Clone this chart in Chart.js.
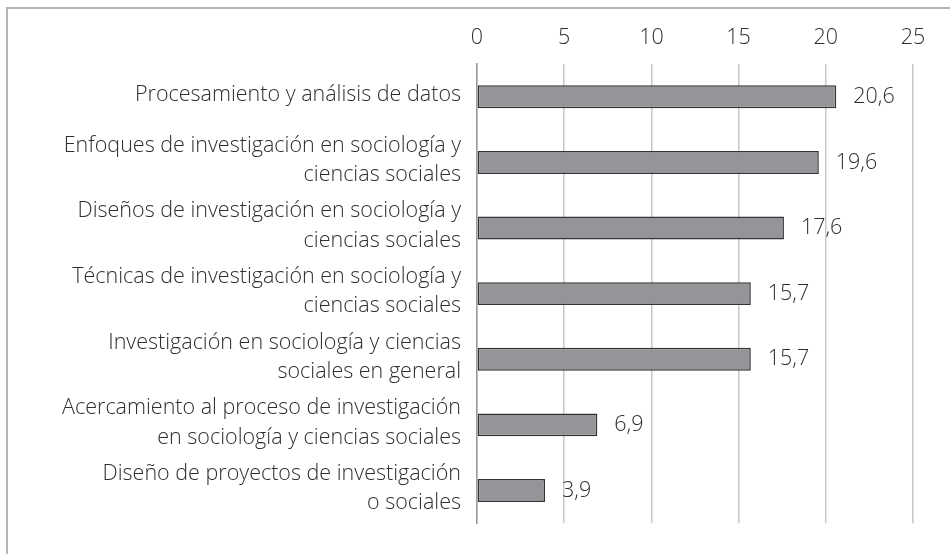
<!DOCTYPE html>
<html>
<head>
<meta charset="utf-8">
<script src="https://cdn.jsdelivr.net/npm/chart.js@4/dist/chart.umd.min.js"></script>
<style>
    html, body { margin: 0; padding: 0; background: #fff; }
    #wrap { position: relative; width: 950px; height: 554px; }
    #frame {
        position: absolute; left: 6px; top: 7px; right: -10px; bottom: -10px;
        border-left: 2px solid #b4b4b4; border-top: 2px solid #b4b4b4;
        pointer-events: none;
    }
</style>
</head>
<body>
<div id="wrap">
    <canvas id="chart" width="950" height="554"></canvas>
    <div id="frame"></div>
</div>
<script>
    // values
    var categories = [
        'Procesamiento y análisis de datos',
        ['Enfoques de investigación en sociología y', 'ciencias sociales'],
        ['Diseños de investigación en sociología y', 'ciencias sociales'],
        ['Técnicas de investigación en sociología y', 'ciencias sociales'],
        ['Investigación en sociología y ciencias', 'sociales en general'],
        ['Acercamiento al proceso de investigación', 'en sociología y ciencias sociales'],
        ['Diseño de proyectos de investigación', 'o sociales']
    ];
    var values = [20.6, 19.6, 17.6, 15.7, 15.7, 6.9, 3.9];
    var xTicks = [0, 5, 10, 15, 20, 25];

    var fontFamily = "'Open Sans', Lato, sans-serif";
    var textColor = '#2e2e2e';

    var valueLabels = {
        id: 'valueLabels',
        afterDatasetsDraw: function (chart) {
            var ctx = chart.ctx;
            var meta = chart.getDatasetMeta(0);
            ctx.save();
            ctx.font = '300 21.5px ' + fontFamily;
            ctx.fillStyle = textColor;
            ctx.textAlign = 'left';
            ctx.textBaseline = 'middle';
            meta.data.forEach(function (bar, i) {
                ctx.fillText(values[i].toFixed(1).replace('.', ','), bar.x + 17, bar.y);
            });
            ctx.restore();
        }
    };

    new Chart(document.getElementById('chart'), {
        type: 'bar',
        data: {
            labels: categories,
            datasets: [{
                data: values,
                backgroundColor: '#939598',
                borderColor: '#333333',
                borderWidth: 1.5,
                borderSkipped: false,
                barPercentage: 0.35,
                categoryPercentage: 1
            }]
        },
        options: {
            indexAxis: 'y',
            responsive: false,
            animation: false,
            layout: {
                padding: { top: 0, right: 37, bottom: 27, left: 0 }
            },
            plugins: {
                legend: { display: false },
                tooltip: { enabled: false }
            },
            scales: {
                x: {
                    position: 'top',
                    min: 0,
                    max: 25,
                    afterBuildTicks: function (scale) {
                        scale.ticks = xTicks.map(function (v) { return { value: v }; });
                    },
                    afterFit: function (scale) { scale.height = 64; },
                    grid: { color: '#c8c8c8', lineWidth: 1.5, drawTicks: false },
                    border: { display: false },
                    ticks: {
                        color: textColor,
                        padding: 13,
                        font: { family: fontFamily, size: 21.5, weight: 300 }
                    }
                },
                y: {
                    afterFit: function (scale) { scale.width = 477; },
                    grid: { display: false, drawTicks: false },
                    border: { display: true, color: '#9a9a9a', width: 1.5 },
                    ticks: {
                        color: textColor,
                        padding: 16,
                        labelOffset: -2,
                        font: { family: fontFamily, size: 21.5, weight: 300, lineHeight: 1.37 }
                    }
                }
            }
        },
        plugins: [valueLabels]
    });
</script>
</body>
</html>
